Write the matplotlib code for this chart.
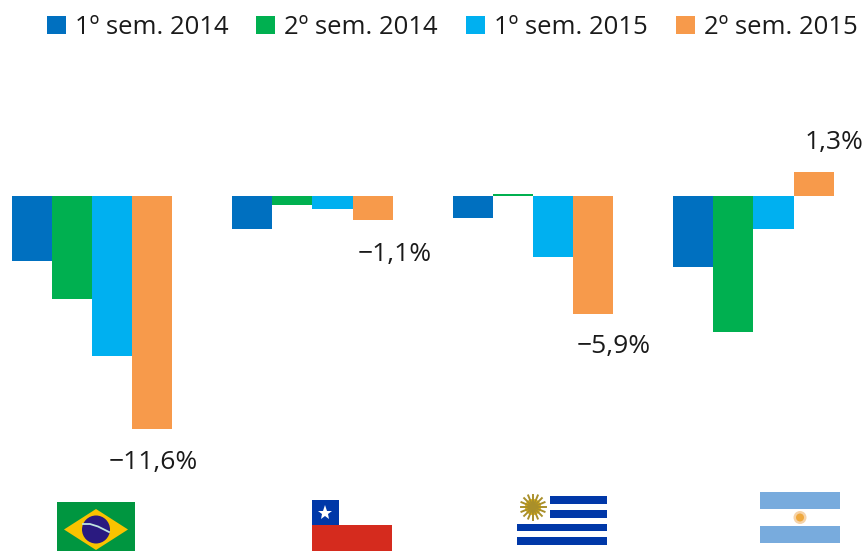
import numpy as np
import matplotlib
matplotlib.use("Agg")
import matplotlib.pyplot as plt
from matplotlib.patches import Rectangle, Polygon, Circle

plt.rcParams['font.family'] = ['Open Sans', 'DejaVu Sans']

countries = ['Brasil', 'Chile', 'Uruguai', 'Argentina']
periods = ['1º sem. 2014', '2º sem. 2014', '1º sem. 2015', '2º sem. 2015']
colors = ['#0070C0', '#00B050', '#00B0F0', '#F79A4B']
s1_2014 = [-3.25, -1.65, -1.1, -3.55]
s2_2014 = [-5.15, -0.45, 0.1, -6.75]
s1_2015 = [-7.95, -0.65, -3.05, -1.65]
s2_2015 = [-11.6, -1.2, -5.85, 1.2]
last_labels = ['−11,6%', '−1,1%', '−5,9%', '1,3%']

W, H = 864, 551
PX_X = 220.5
PX_Y = 20.09
ZERO_X, ZERO_Y = 92, 196
BAR = 40.2 / PX_X

fig = plt.figure(figsize=(W / 100, H / 100), dpi=100)
ax = fig.add_axes([0, 0, 1, 1])
ax.set_xlim(-ZERO_X / PX_X, (W - ZERO_X) / PX_X)
ax.set_ylim(-(H - ZERO_Y) / PX_Y, ZERO_Y / PX_Y)
ax.axis('off')

x = np.arange(len(countries))
series = [s1_2014, s2_2014, s1_2015, s2_2015]
for i, vals in enumerate(series):
    ax.bar(x + (i - 1.5) * BAR, vals, BAR, color=colors[i], label=periods[i], linewidth=0)

# labels for the last semester
label_x = [153, 394.5, 614, 834.5]
label_y = [462, 254, 347, 142]
for xp, yp, t in zip(label_x, label_y, last_labels):
    ax.text((xp - ZERO_X) / PX_X, (ZERO_Y - yp) / PX_Y, t, ha='center', va='center',
            fontsize=19, color='#1a1a1a')

leg = ax.legend(loc='upper left', bbox_to_anchor=(46.5 / W, 1 - 15 / H), ncols=4, frameon=False,
                fontsize=18.5, handlelength=0.74, handleheight=0.74, handletextpad=0.35,
                columnspacing=1.1, borderaxespad=0, borderpad=0, labelcolor='#1a1a1a')

# flags, pixel overlay
ov = fig.add_axes([0, 0, 1, 1], facecolor='none')
ov.set_xlim(0, W)
ov.set_ylim(H, 0)
ov.axis('off')

# Brazil
ov.add_patch(Rectangle((57, 502), 78, 49, color='#009640', lw=0))
ov.add_patch(Polygon([(64, 529.5), (96, 509), (128, 529.5), (96, 550)], color='#F9C300', lw=0))
ov.add_patch(Circle((96, 529.5), 14, color='#2A1A80', lw=0))
ov.plot([83, 90, 98, 109], [524, 524, 526.5, 532], color='#BFE3E0', lw=1.3)

# Chile
ov.add_patch(Rectangle((312, 500), 27, 25, color='#0038A8', lw=0))
ov.add_patch(Rectangle((312, 525), 80, 26, color='#D52B1E', lw=0))
ov.plot([325], [512.5], marker='*', ms=11, color='white', mew=0)

# Uruguay
for y0, y1, x0 in [(496, 504, 550), (510, 517.5, 550), (523.5, 531, 517), (537, 545, 517)]:
    ov.add_patch(Rectangle((x0, y0), 607 - x0, y1 - y0, color='#0038A8', lw=0))
ang = np.linspace(0, 2 * np.pi, 16, endpoint=False)
for a in ang:
    ov.plot([533, 533 + 12.5 * np.cos(a)], [507, 507 + 12.5 * np.sin(a)], color='#A98F2A', lw=1.4)
ov.add_patch(Circle((533, 507), 8, color='#E0B010', lw=0))

# Argentina
ov.add_patch(Rectangle((760, 492), 80, 17, color='#78ABDD', lw=0))
ov.add_patch(Rectangle((760, 526), 80, 17, color='#78ABDD', lw=0))
ov.add_patch(Circle((800, 517.5), 6.5, color='#F6D3A8', lw=0))
ov.add_patch(Circle((800, 517.5), 4, color='#EFA93F', lw=0))

fig.savefig('out.png', dpi=100)
